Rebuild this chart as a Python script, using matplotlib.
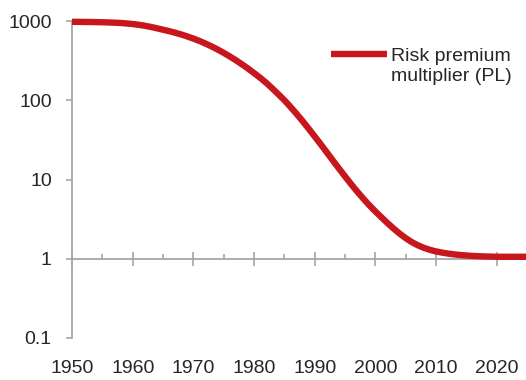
import matplotlib.pyplot as plt
from matplotlib.lines import Line2D
from matplotlib.ticker import NullLocator

plt.rcParams['font.family'] = ['Liberation Sans', 'DejaVu Sans']

# risk premium multiplier (PL), one reading per year 1950-2025
years = list(range(1950, 2026))
multiplier = [
    977, 975, 973, 971, 968, 964, 959, 953, 944, 931,         # 1950s
    916, 895, 871, 841, 809, 776, 745, 711, 676, 638,         # 1960s
    600, 560, 519, 478, 437, 396, 357, 320, 284, 251,         # 1970s
    220, 192, 166, 141, 119, 100, 82.4, 67.3, 54.5, 43.7,     # 1980s
    34.8, 27.7, 21.9, 17.3, 13.7, 10.9, 8.71, 7.03, 5.73, 4.72,  # 1990s
    3.94, 3.32, 2.81, 2.40, 2.07, 1.816, 1.618, 1.476, 1.371, 1.294,  # 2000s
    1.236, 1.194, 1.161, 1.135, 1.114, 1.099, 1.086, 1.076, 1.069, 1.064,  # 2010s
    1.059, 1.059, 1.059, 1.059, 1.059, 1.059,                 # 2020s
]

y_ticks = [0.1, 1, 10, 100, 1000]
y_labels = ['0.1', '1', '10', '100', '1000']
x_ticks = [1950, 1960, 1970, 1980, 1990, 2000, 2010, 2020]
x_minor = [1955, 1965, 1975, 1985, 1995, 2005, 2015]

red = '#C8161D'
grey = '#A6A6A6'
ink = '#262626'

fig = plt.figure(figsize=(5.26, 3.80), dpi=100)
ax = fig.add_axes([72 / 526, 42 / 380, 454 / 526, 317 / 380])

ax.plot(years, multiplier, color=red, lw=4.6, solid_capstyle='butt',
        clip_on=False, zorder=5, label='Risk premium')
ax.set_yscale('log')
ax.set_ylim(0.1, 1000)
ax.set_xlim(1950, 2024.8)

for s in ['top', 'right']:
    ax.spines[s].set_visible(False)
ax.spines['left'].set_color(grey)
ax.spines['left'].set_linewidth(1.3)
ax.spines['bottom'].set_color(grey)
ax.spines['bottom'].set_linewidth(1.3)
ax.spines['bottom'].set_position(('data', 1))

ax.set_yticks(y_ticks)
ax.set_yticklabels(y_labels)
ax.yaxis.set_minor_locator(NullLocator())
ax.tick_params(axis='y', direction='out', length=4.5, width=1.2, color=grey,
               labelsize=14, labelcolor=ink, pad=10)

ax.set_xticks(x_ticks)
ax.set_xticks(x_minor, minor=True)
ax.tick_params(axis='x', which='major', direction='inout', length=10,
               width=1.2, color=grey, labelbottom=False)
ax.tick_params(axis='x', which='minor', direction='in', length=3.8,
               width=1.2, color=grey, labelbottom=False)

# year labels sit under the plot area, not under the axis line at 1
sec = ax.secondary_xaxis(0)
sec.set_xticks(x_ticks)
sec.tick_params(length=0, pad=15.5, labelsize=14, labelcolor=ink)
sec.spines['bottom'].set_visible(False)

blank = Line2D([], [], alpha=0)
ax.legend(handles=[ax.lines[0], blank],
          labels=['Risk premium', 'multiplier (PL)'],
          loc='upper left', bbox_to_anchor=(331 / 526, 333 / 380),
          bbox_transform=fig.transFigure, frameon=False, fontsize=14,
          borderpad=0, borderaxespad=0, handlelength=2.9,
          handletextpad=0.2, labelspacing=0.15, labelcolor=ink)

fig.savefig('out.png', dpi=100)
